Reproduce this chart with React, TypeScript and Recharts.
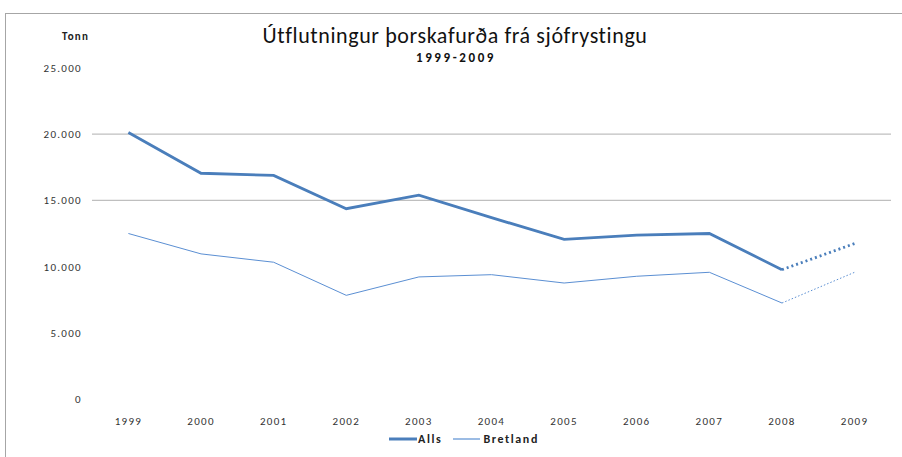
import React from 'react';
import { LineChart, Line, XAxis, YAxis, ReferenceLine, Legend } from 'recharts';

const years = ['1999', '2000', '2001', '2002', '2003', '2004', '2005', '2006', '2007', '2008', '2009'];
const alls = [20130, 17050, 16890, 14370, 15400, 13700, 12050, 12370, 12500, 9770, 11740];
const bretland = [12500, 10960, 10330, 7830, 9220, 9390, 8760, 9270, 9570, 7250, 9570];
const yTicks = [0, 5000, 10000, 15000, 20000, 25000];
const gridValues = [15000, 20000];
const solidUntil = 9; // index of 2008; 2008-2009 drawn dotted

const data = years.map((y, i) => ({
  year: y,
  alls: i <= solidUntil ? alls[i] : null,
  allsDot: i >= solidUntil ? alls[i] : null,
  bretland: i <= solidUntil ? bretland[i] : null,
  bretlandDot: i >= solidUntil ? bretland[i] : null,
}));

const fmt = (v: number) => {
  const s = String(Math.round(v));
  return s.replace(/\B(?=(\d{3})+(?!\d))/g, '.');
};

const FONT = 'Carlito, Lato, "Open Sans", Arial, sans-serif';
const BLUE = '#4a7ebb';
const LIGHT = '#5b8fd3';

const LegendContent = () => (
  <div style={{ display: 'flex', justifyContent: 'center', alignItems: 'center', fontFamily: FONT, fontSize: 12, fontWeight: 700, color: '#222', letterSpacing: 1.6, paddingLeft: 26 }}>
    <svg width={28} height={10}><line x1={0} y1={5} x2={28} y2={5} stroke={BLUE} strokeWidth={3} /></svg>
    <span style={{ marginLeft: 1, marginRight: 11 }}>Alls</span>
    <svg width={27} height={10}><line x1={0} y1={5} x2={27} y2={5} stroke={LIGHT} strokeWidth={1.2} /></svg>
    <span style={{ marginLeft: 3 }}>Bretland</span>
  </div>
);

const tickStyle = { fontSize: 11, fill: '#333', fontFamily: FONT, letterSpacing: 1.3 };

export default function App() {
  return (
    <div style={{ position: 'absolute', left: 0, top: 0, width: 902, height: 457, background: '#fff', overflow: 'hidden' }}>
      <div style={{ position: 'absolute', left: 5, top: 13, right: 0, bottom: 0, borderTop: '1.5px solid #a6a6a6', borderLeft: '1.5px solid #a6a6a6' }} />
      <div style={{ position: 'absolute', left: 0, width: 910, top: 22, textAlign: 'center', fontFamily: FONT, fontSize: 22, letterSpacing: 0.6, color: '#111', whiteSpace: 'nowrap' }}>
        Útflutningur þorskafurða frá sjófrystingu
      </div>
      <div style={{ position: 'absolute', left: 0, width: 912, top: 50, textAlign: 'center', fontFamily: FONT, fontSize: 13, fontWeight: 700, letterSpacing: 2.6, color: '#111' }}>
        1999-2009
      </div>
      <div style={{ position: 'absolute', left: 62, top: 30, fontFamily: FONT, fontSize: 11, fontWeight: 700, letterSpacing: 1.2, color: '#222' }}>
        Tonn
      </div>
      <LineChart width={902} height={457} data={data} margin={{ top: 68, right: 11, left: 0, bottom: 38 }} style={{ position: 'absolute', left: 0, top: 0 }}>
        {gridValues.map((g) => (
          <ReferenceLine key={g} y={g} stroke="#bfbfbf" strokeWidth={1.2} />
        ))}
        <XAxis dataKey="year" axisLine={false} tickLine={false} height={20} tickMargin={12} padding={{ left: 36.4, right: 36.4 }} tick={tickStyle} interval={0} />
        <YAxis domain={[0, 25000]} ticks={yTicks} width={92} axisLine={false} tickLine={false} tickMargin={4} tickFormatter={fmt} tick={tickStyle} />
        <Line type="linear" dataKey="alls" stroke={BLUE} strokeWidth={2.8} dot={false} isAnimationActive={false} />
        <Line type="linear" dataKey="allsDot" stroke={BLUE} strokeWidth={2.8} strokeDasharray="2 3" dot={false} isAnimationActive={false} legendType="none" />
        <Line type="linear" dataKey="bretland" stroke={LIGHT} strokeWidth={1} dot={false} isAnimationActive={false} />
        <Line type="linear" dataKey="bretlandDot" stroke={LIGHT} strokeWidth={1} strokeDasharray="1.5 2" dot={false} isAnimationActive={false} legendType="none" />
        <Legend verticalAlign="middle" align="center" layout="horizontal" content={<LegendContent />} wrapperStyle={{ top: 432, left: 0, width: 902 }} />
      </LineChart>
    </div>
  );
}
